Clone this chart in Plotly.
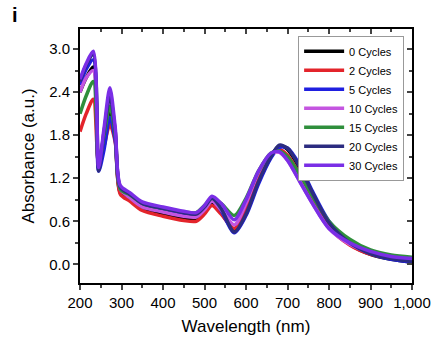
import plotly.graph_objects as go

wavelength = [200, 215, 232, 245, 258, 272, 285, 297, 320, 350, 400, 450, 480, 500, 518, 540,
              572, 600, 630, 660, 680, 700, 730, 760, 800, 850, 900, 950, 1000]

series_names = ["0 Cycles", "2 Cycles", "5 Cycles", "10 Cycles", "15 Cycles", "20 Cycles", "30 Cycles"]

abs_0 = [2.40, 2.60, 2.75, 1.35, 1.75, 2.15, 1.75, 1.00, 0.90, 0.78, 0.70, 0.64, 0.62, 0.72, 0.85, 0.72,
         0.48, 0.72, 1.15, 1.50, 1.65, 1.60, 1.33, 0.98, 0.56, 0.28, 0.14, 0.07, 0.03]
abs_2 = [1.85, 2.10, 2.30, 1.40, 1.65, 1.95, 1.70, 0.98, 0.88, 0.75, 0.67, 0.61, 0.60, 0.70, 0.82, 0.70,
         0.50, 0.78, 1.20, 1.52, 1.60, 1.52, 1.25, 0.92, 0.52, 0.27, 0.14, 0.08, 0.04]
abs_5 = [2.50, 2.72, 2.85, 1.30, 1.60, 2.05, 1.72, 1.05, 0.95, 0.83, 0.76, 0.70, 0.68, 0.78, 0.90, 0.75,
         0.44, 0.68, 1.12, 1.48, 1.63, 1.62, 1.38, 1.02, 0.60, 0.30, 0.15, 0.07, 0.03]
abs_10 = [2.40, 2.60, 2.70, 1.38, 1.85, 2.30, 1.85, 1.05, 0.93, 0.80, 0.73, 0.67, 0.66, 0.76, 0.88, 0.76,
          0.55, 0.85, 1.28, 1.54, 1.56, 1.45, 1.15, 0.85, 0.50, 0.28, 0.16, 0.10, 0.07]
abs_15 = [2.10, 2.35, 2.55, 1.40, 1.80, 2.20, 1.80, 1.05, 0.97, 0.85, 0.78, 0.73, 0.72, 0.82, 0.92, 0.85,
          0.68, 0.92, 1.30, 1.55, 1.58, 1.50, 1.25, 0.95, 0.60, 0.35, 0.20, 0.13, 0.10]
abs_20 = [2.55, 2.78, 2.92, 1.30, 1.85, 2.35, 1.85, 1.08, 0.98, 0.85, 0.78, 0.72, 0.70, 0.80, 0.92, 0.78,
          0.45, 0.70, 1.15, 1.50, 1.66, 1.62, 1.35, 1.00, 0.58, 0.30, 0.15, 0.08, 0.04]
abs_30 = [2.58, 2.80, 2.97, 1.35, 1.90, 2.46, 1.90, 1.10, 1.00, 0.87, 0.80, 0.74, 0.72, 0.82, 0.95, 0.85,
          0.62, 0.90, 1.30, 1.55, 1.57, 1.45, 1.15, 0.85, 0.50, 0.30, 0.18, 0.11, 0.08]

all_abs = [abs_0, abs_2, abs_5, abs_10, abs_15, abs_20, abs_30]
colors = ["#000000", "#e3242b", "#1f1fe0", "#c455e0", "#2f8f3c", "#2c2c80", "#7a2ee6"]

x_ticks = [200, 300, 400, 500, 600, 700, 800, 900, 1000]
x_tick_labels = ["200", "300", "400", "500", "600", "700", "800", "900", "1,000"]
y_ticks = [0.0, 0.6, 1.2, 1.8, 2.4, 3.0]
y_tick_labels = ["0.0", "0.6", "1.2", "1.8", "2.4", "3.0"]

fig = go.Figure()
for name, vals, col in zip(series_names, all_abs, colors):
    fig.add_trace(go.Scatter(x=wavelength, y=vals, mode="lines", name=name,
                             line=dict(color=col, width=3.5, shape="spline", smoothing=0.8)))

font = "Liberation Sans, Arial, sans-serif"
xr = [200, 1000]
yr = [-0.26, 3.28]

fig.update_layout(
    width=443, height=345,
    margin=dict(l=80, r=22, t=29, b=61),
    paper_bgcolor="white", plot_bgcolor="white",
    font=dict(family=font, color="black", size=15),
    showlegend=True,
    legend=dict(x=0.657, y=0.973, xanchor="left", yanchor="top",
                bordercolor="#999999", borderwidth=1, bgcolor="white",
                font=dict(size=11), tracegroupgap=0, itemwidth=40),
    xaxis=dict(range=xr, tickvals=x_ticks, ticktext=x_tick_labels, ticks="outside",
               ticklen=5, tickwidth=1.5, showline=True, linecolor="black", linewidth=2,
               showgrid=False, zeroline=False,
               minor=dict(dtick=50, tick0=200, ticks="outside", ticklen=3, tickwidth=1.5),
               title=dict(text="Wavelength (nm)", font=dict(size=17), standoff=10)),
    yaxis=dict(range=yr, tickvals=y_ticks, ticktext=y_tick_labels, ticks="outside",
               ticklen=5, tickwidth=1.5, showline=True, linecolor="black", linewidth=2,
               showgrid=False, zeroline=False,
               minor=dict(dtick=0.3, tick0=0, ticks="outside", ticklen=3, tickwidth=1.5),
               title=dict(text="Absorbance (a.u.)", font=dict(size=17), standoff=10)),
    xaxis2=dict(range=xr, overlaying="x", side="top", showticklabels=False,
                tickvals=x_ticks, ticks="inside", ticklen=5, tickwidth=1.5,
                showline=True, linecolor="black", linewidth=2, showgrid=False, zeroline=False,
                minor=dict(dtick=50, tick0=200, ticks="inside", ticklen=3, tickwidth=1.5)),
    yaxis2=dict(range=yr, overlaying="y", side="right", showticklabels=False,
                tickvals=y_ticks, ticks="inside", ticklen=5, tickwidth=1.5,
                showline=True, linecolor="black", linewidth=2, showgrid=False, zeroline=False,
                minor=dict(dtick=0.3, tick0=0, ticks="inside", ticklen=3, tickwidth=1.5)),
)
fig.add_trace(go.Scatter(x=[None], y=[None], xaxis="x2", yaxis="y2", showlegend=False,
                         hoverinfo="skip"))

fig.add_annotation(text="<b>i</b>", xref="paper", yref="paper", x=-80/341, y=1 + 14/255,
                   xanchor="left", yanchor="middle", showarrow=False,
                   font=dict(size=20, family=font, color="black"), xshift=8)

fig.write_html("out.html")
